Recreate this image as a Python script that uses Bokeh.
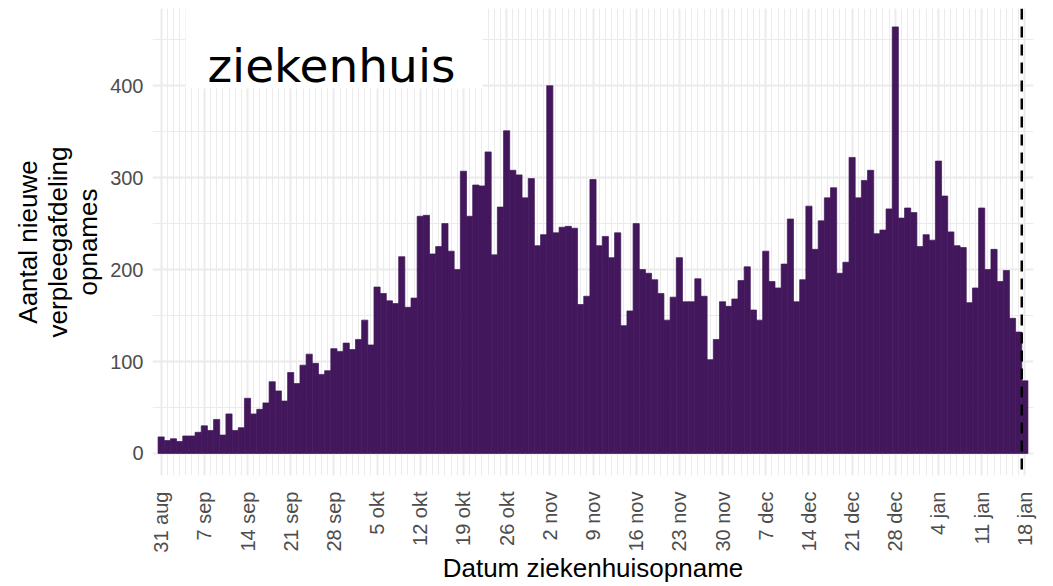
from math import pi
from bokeh.plotting import figure
from bokeh.models import FixedTicker, Span, Label, BoxAnnotation, Range1d
from bokeh.embed import file_html
from bokeh.resources import INLINE

# --- data -------------------------------------------------------------
tick_labels = ["31 aug", "7 sep", "14 sep", "21 sep", "28 sep", "5 okt", "12 okt",
               "19 okt", "26 okt", "2 nov", "9 nov", "16 nov", "23 nov", "30 nov",
               "7 dec", "14 dec", "21 dec", "28 dec", "4 jan", "11 jan", "18 jan"]

# daily admissions, 31 aug .. 18 jan
counts = [18, 14, 16, 13, 19, 19, 23, 30, 25, 37, 20, 43, 25, 28, 60, 43, 48, 55, 78, 68,
          57, 88, 76, 96, 108, 98, 86, 90, 114, 111, 120, 113, 124, 145, 118, 181,
          174, 166, 163, 214, 159, 169, 258, 259, 217, 225, 250, 220, 200, 307, 258, 292,
          291, 328, 216, 268, 351, 308, 303, 278, 299, 226, 238, 400, 240, 246, 247, 245,
          162, 171, 298,
          226, 236, 213, 240, 139, 155, 250, 200, 196, 189, 174, 145, 170, 213, 165, 165,
          190, 171, 102, 124, 165, 160, 168, 188, 203, 156, 145, 220, 187, 180, 206, 255,
          165, 189, 269, 222, 253,
          278, 289, 196, 208, 322, 278, 297, 308, 239, 243, 266, 464, 256, 267, 262, 225,
          238, 232, 318, 280, 241, 226, 224, 164, 180, 267, 200, 222, 187, 199, 147, 132, 79]

y_major = [0, 100, 200, 300, 400]
y_minor = [50, 150, 250, 350, 450]

x_title = "Datum ziekenhuisopname"
y_title = "Aantal nieuwe\nverpleegafdeling\nopnames"
panel_label = "ziekenhuis"

days = list(range(len(counts)))
tick_days = list(range(0, len(counts), 7))
cutoff_day = len(counts) - 1.5  # dashed line just before the last day

BAR = "#43175C"
GRID = "#EBEBEB"
AXIS_FONT = "Liberation Sans"

X0, X1 = -1.4, 141.4
Y0, Y1 = -24, 484
p = figure(width=1053, height=586, output_backend="svg", toolbar_location=None,
           x_range=Range1d(X0, X1), y_range=Range1d(Y0, Y1),
           min_border_left=152, min_border_right=20, min_border_top=8,
           min_border_bottom=111, background_fill_color="white",
           border_fill_color="white", outline_line_color=None)

p.vbar(x=days, top=counts, bottom=0, width=1, fill_color=BAR,
       line_color=BAR, line_width=0.7)

# grids / tickers
xt = FixedTicker(ticks=tick_days, minor_ticks=days)
yt = FixedTicker(ticks=y_major, minor_ticks=y_minor)
p.xaxis.ticker = xt
p.xgrid.ticker = xt
p.yaxis.ticker = yt
p.ygrid.ticker = yt
for g in (p.xgrid, p.ygrid):
    g.grid_line_color = GRID
    g.grid_line_width = 2
    g.minor_grid_line_color = GRID
    g.minor_grid_line_width = 1

# axes
for ax in (p.xaxis, p.yaxis):
    ax.axis_line_color = None
    ax.major_tick_line_color = None
    ax.minor_tick_line_color = None
    ax.major_label_text_font = AXIS_FONT
    ax.major_label_text_font_size = "20px"
    ax.major_label_text_color = "#4D4D4D"
    ax.axis_label_text_font = AXIS_FONT
    ax.axis_label_text_font_size = "26px"
    ax.axis_label_text_font_style = "normal"
    ax.axis_label_text_color = "black"

p.xaxis.major_label_overrides = {d: l for d, l in zip(tick_days, tick_labels)}
p.xaxis.major_label_orientation = pi / 2
p.xaxis.major_label_standoff = 10
p.xaxis.axis_label = x_title
p.xaxis.axis_label_standoff = -3

p.yaxis.major_label_standoff = 3
p.yaxis.axis_label = y_title
p.yaxis.axis_label_standoff = 4
p.yaxis.axis_label_text_line_height = 1.0

# dashed cutoff line
p.add_layout(Span(location=cutoff_day, dimension="height", line_color="black",
                  line_dash="11 7", line_width=2.5))

# "ziekenhuis" label with white box
p.add_layout(BoxAnnotation(left=3.95, right=52.1, bottom=397, top=Y1,
                           fill_color="white", fill_alpha=1.0, line_color=None))
p.add_layout(Label(x=7.5, y=421.7, text=panel_label, text_font="DejaVu Sans",
                   text_font_size="47px", text_color="black", text_align="left",
                   text_baseline="alphabetic"))

open("out.html", "w").write(file_html(p, INLINE))
